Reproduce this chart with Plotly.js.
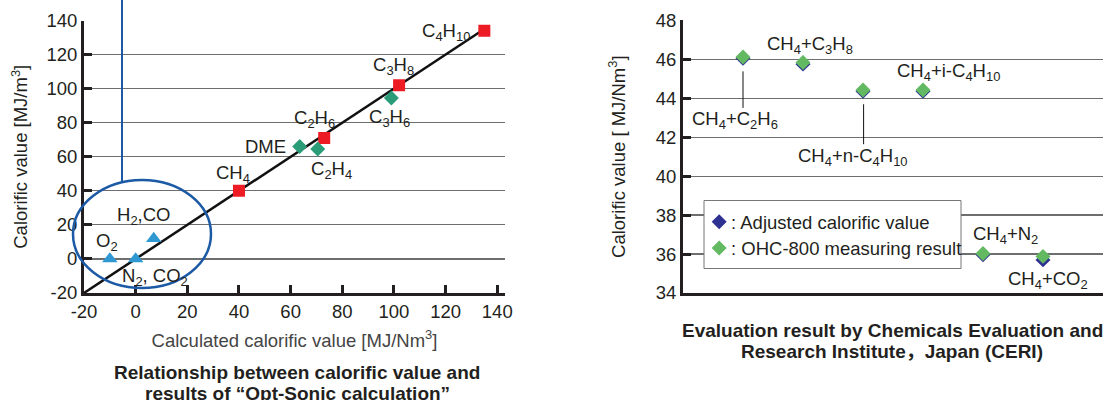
<!DOCTYPE html>
<html>
<head>
<meta charset="utf-8">
<script src="https://cdn.plot.ly/plotly-3.0.1.min.js"></script>
<style>html,body{margin:0;padding:0;background:#fff;}#chart{width:1109px;height:400px;}</style>
</head>
<body>
<div id="chart"></div>
<script>
// ---- Left chart data ----
const paraffinLabels = ['CH<sub>4</sub>', 'C<sub>2</sub>H<sub>6</sub>', 'C<sub>3</sub>H<sub>8</sub>', 'C<sub>4</sub>H<sub>10</sub>'];
const paraffinX = [40, 73, 102, 135];
const paraffinY = [40, 71, 102, 134];
const otherLabels = ['DME', 'C<sub>2</sub>H<sub>4</sub>', 'C<sub>3</sub>H<sub>6</sub>'];
const otherX = [63.5, 70.5, 99];
const otherY = [66, 64.5, 94.5];
const inertLabels = ['O<sub>2</sub>', 'N<sub>2</sub>, CO<sub>2</sub>', 'H<sub>2</sub>,CO'];
const inertX = [-10, 0, 7];
const inertY = [0, 0, 12];
const fitX = [-20, 135];
const fitY = [-20, 135];
const leftXTicks = [-20, 0, 20, 40, 60, 80, 100, 120, 140];
const leftXTickText = ['-20', '0', '20', '40', '60', '80', '100', '120', '140'];
const leftYTicks = [-20, 0, 20, 40, 60, 80, 100, 120, 140];
const leftYTickText = ['-20', '0', '20', '40', '60', '80', '100', '120', '140'];

// ---- Right chart data ----
const mixLabels = ['CH<sub>4</sub>+C<sub>2</sub>H<sub>6</sub>', 'CH<sub>4</sub>+C<sub>3</sub>H<sub>8</sub>', 'CH<sub>4</sub>+n-C<sub>4</sub>H<sub>10</sub>', 'CH<sub>4</sub>+i-C<sub>4</sub>H<sub>10</sub>', 'CH<sub>4</sub>+N<sub>2</sub>', 'CH<sub>4</sub>+CO<sub>2</sub>'];
const mixX = [1, 2, 3, 4, 5, 6];
const adjustedValue = [46.05, 45.75, 44.36, 44.36, 35.96, 35.7];
const ohcValue = [46.12, 45.83, 44.42, 44.42, 36.03, 35.88];
const seriesNames = [': Adjusted calorific value', ': OHC-800 measuring result'];
const seriesColors = ['#2e3192', '#63b862'];

const W = 1109, H = 400;
const px = v => v / W;
const py = v => 1 - v / H;
const FONT = 'Liberation Sans, Arial, Helvetica, Noto Sans CJK JP, sans-serif';
const DARK = '#231f20';
const FS = 18.5;

const traces = [
  {x: fitX, y: fitY, type: 'scatter', mode: 'lines', line: {color: '#111', width: 2.5}, showlegend: false, xaxis: 'x', yaxis: 'y', hoverinfo: 'skip'},
  {x: paraffinX, y: paraffinY, text: paraffinLabels, type: 'scatter', mode: 'markers', marker: {symbol: 'square', size: 12, color: '#ed1c24'}, showlegend: false, xaxis: 'x', yaxis: 'y'},
  {x: otherX, y: otherY, text: otherLabels, type: 'scatter', mode: 'markers', marker: {symbol: 'diamond', size: 11.5, color: '#2a9d78'}, showlegend: false, xaxis: 'x', yaxis: 'y'},
  {x: inertX, y: inertY, text: inertLabels, type: 'scatter', mode: 'markers', marker: {symbol: 'triangle-up', size: 13.5, color: '#2f98d3'}, showlegend: false, xaxis: 'x', yaxis: 'y'},
  {x: mixX, y: adjustedValue, text: mixLabels, name: seriesNames[0], type: 'scatter', mode: 'markers', marker: {symbol: 'diamond', size: 11.5, color: seriesColors[0]}, showlegend: false, xaxis: 'x2', yaxis: 'y2'},
  {x: mixX, y: ohcValue, text: mixLabels, name: seriesNames[1], type: 'scatter', mode: 'markers', marker: {symbol: 'diamond', size: 11.5, color: seriesColors[1]}, showlegend: false, xaxis: 'x2', yaxis: 'y2'}
];

const tickFont = {family: FONT, size: FS, color: DARK};
const lblFont = {family: FONT, size: FS, color: DARK};
const capFont = {family: FONT, size: 19, color: DARK, weight: 'bold'};

function ann(x, y, text, xref, yref, extra) {
  return Object.assign({x: x, y: y, text: text, xref: xref, yref: yref, showarrow: false, font: lblFont, xanchor: 'center', yanchor: 'middle'}, extra || {});
}

const annotations = [
  // left labels
  ann(120.2, 133.5, paraffinLabels[3], 'x', 'y'),
  ann(100, 113.5, paraffinLabels[2], 'x', 'y'),
  ann(69.1, 82, paraffinLabels[1], 'x', 'y'),
  ann(98.4, 83, otherLabels[2], 'x', 'y'),
  ann(50.3, 66, otherLabels[0], 'x', 'y'),
  ann(75.7, 52.5, otherLabels[1], 'x', 'y'),
  ann(37.7, 50, paraffinLabels[0], 'x', 'y'),
  ann(3, 25.5, inertLabels[2], 'x', 'y'),
  ann(-11, 10, inertLabels[0], 'x', 'y'),
  ann(7.5, -10.6, inertLabels[1], 'x', 'y'),
  // right labels
  ann(2.12, 46.72, mixLabels[1], 'x2', 'y2'),
  ann(0.87, 42.87, mixLabels[0], 'x2', 'y2'),
  ann(2.83, 40.99, mixLabels[2], 'x2', 'y2'),
  ann(4.43, 45.32, mixLabels[3], 'x2', 'y2'),
  ann(5.37, 36.97, mixLabels[4], 'x2', 'y2'),
  ann(6.09, 34.67, mixLabels[5], 'x2', 'y2'),
  // legend texts
  ann(px(729), py(222), seriesNames[0], 'paper', 'paper', {xanchor: 'left'}),
  ann(px(729), py(248.5), seriesNames[1], 'paper', 'paper', {xanchor: 'left'}),
  // captions
  ann(px(297), py(372), 'Relationship between calorific value and', 'paper', 'paper', {font: capFont}),
  ann(px(297), py(393), 'results of “Opt-Sonic calculation”', 'paper', 'paper', {font: capFont}),
  ann(px(892), py(330), 'Evaluation result by Chemicals Evaluation and', 'paper', 'paper', {font: capFont}),
  ann(px(892), py(351.5), 'Research Institute，Japan (CERI)', 'paper', 'paper', {font: capFont})
];

function diamondPath(cx, cy, r) {
  return 'M' + px(cx - r) + ',' + py(cy) + ' L' + px(cx) + ',' + py(cy - r) + ' L' + px(cx + r) + ',' + py(cy) + ' L' + px(cx) + ',' + py(cy + r) + ' Z';
}

const shapes = [
  {type: 'circle', xref: 'paper', yref: 'paper', x0: px(73), x1: px(211), y0: py(288), y1: py(180), line: {color: '#1c5aa6', width: 2.5}},
  {type: 'line', xref: 'paper', yref: 'paper', x0: px(122), x1: px(122), y0: py(181), y1: 1, line: {color: '#1c5aa6', width: 2}},
  {type: 'line', xref: 'x2', yref: 'y2', x0: 1, x1: 1, y0: 45.38, y1: 43.5, line: {color: '#111', width: 1}},
  {type: 'line', xref: 'x2', yref: 'y2', x0: 3.01, x1: 3.01, y0: 43.69, y1: 41.64, line: {color: '#111', width: 1}},
  // legend box and symbols
  {type: 'rect', xref: 'paper', yref: 'paper', x0: px(704), x1: px(961), y0: py(268.5), y1: py(200.5), fillcolor: '#fff', line: {color: '#777', width: 1}, layer: 'above'},
  {type: 'path', xref: 'paper', yref: 'paper', path: diamondPath(719.2, 221.7, 7.5), fillcolor: seriesColors[0], line: {width: 0}, layer: 'above'},
  {type: 'path', xref: 'paper', yref: 'paper', path: diamondPath(719.2, 248, 7.5), fillcolor: seriesColors[1], line: {width: 0}, layer: 'above'}
];

const axisCommon = {
  showline: true, linewidth: 3, linecolor: DARK, zeroline: false,
  ticks: 'inside', ticklen: 8, tickwidth: 3, tickcolor: DARK, tickfont: tickFont
};

const layout = {
  width: W, height: H,
  margin: {l: 0, r: 0, t: 0, b: 0},
  paper_bgcolor: '#fff', plot_bgcolor: 'rgba(0,0,0,0)',
  font: {family: FONT, color: DARK},
  showlegend: false,
  xaxis: Object.assign({}, axisCommon, {
    domain: [px(84), px(505)], range: [-20, 143], tickmode: 'array', tickvals: leftXTicks, ticktext: leftXTickText,
    showgrid: false, anchor: 'y',
    title: {text: 'Calculated calorific value [MJ/Nm<sup>3</sup>]', font: {family: FONT, size: FS, color: '#444'}, standoff: 13}
  }),
  yaxis: Object.assign({}, axisCommon, {
    domain: [py(293), py(20.5)], range: [-20, 140], tickmode: 'array', tickvals: leftYTicks, ticktext: leftYTickText, anchor: 'x',
    showgrid: true, gridcolor: '#6d6e70', gridwidth: 1.2,
    title: {text: 'Calorific value [MJ/m<sup>3</sup>]', font: {family: FONT, size: FS, color: DARK}, standoff: 14}
  }),
  xaxis2: Object.assign({}, axisCommon, {
    domain: [px(683), px(1103)], range: [0, 7], showticklabels: false, ticks: '', showgrid: false, anchor: 'y2'
  }),
  yaxis2: Object.assign({}, axisCommon, {
    domain: [py(293), py(20.3)], range: [34, 48], dtick: 2, anchor: 'x2',
    showgrid: true, gridcolor: '#6d6e70', gridwidth: 1.2,
    title: {text: 'Calorific value [ MJ/Nm<sup>3</sup>]', font: {family: FONT, size: FS, color: DARK}, standoff: 26}
  }),
  annotations: annotations,
  shapes: shapes
};

Plotly.newPlot('chart', traces, layout, {displayModeBar: false, staticPlot: true});
</script>
</body>
</html>
